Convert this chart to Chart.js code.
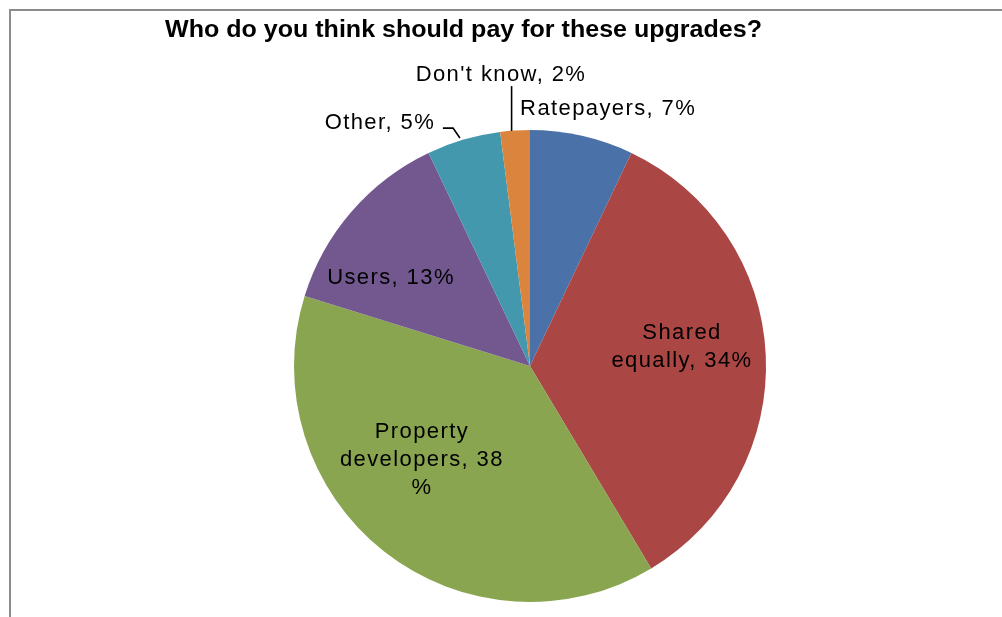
<!DOCTYPE html>
<html>
<head>
<meta charset="utf-8">
<script src="https://cdn.jsdelivr.net/npm/chart.js@4.4.1/dist/chart.umd.min.js"></script>
<style>
  html, body { margin: 0; padding: 0; background: #fff; }
  #wrap { width: 1002px; height: 617px; position: relative; }
</style>
</head>
<body>
<div id="wrap"><canvas id="c" width="1002" height="617"></canvas></div>
<script>
// Survey answers: who should pay for the upgrades
const categories = ['Ratepayers', 'Shared equally', 'Property developers', 'Users', 'Other', "Don't know"];
const shares = [7, 34, 38, 13, 5, 2];
// Label text lines for each slice
const labelLines = [
  ['Ratepayers, 7%'],
  ['Shared', 'equally, 34%'],
  ['Property', 'developers, 38', '%'],
  ['Users, 13%'],
  ['Other, 5%'],
  ["Don't know, 2%"]
];
const chartTitle = 'Who do you think should pay for these upgrades?';

const sliceColors = ['#4A72A8', '#AA4644', '#8AA550', '#72588F', '#4398AE', '#DB843D'];

// Label anchors, in units of the pie radius relative to its centre
// (dx, dy = middle of the baselines), plus optional leader lines.
const labelPlacement = [
  { dx: -0.042, dy: -1.064, align: 'left' },
  { dx: 0.644, dy: -0.053, align: 'center' },
  { dx: -0.458, dy: 0.422, align: 'center' },
  { dx: -0.589, dy: -0.347, align: 'center' },
  { dx: -0.636, dy: -1.004, align: 'center',
    leader: [[-0.369, -1.008], [-0.326, -1.008], [-0.297, -0.966]] },
  { dx: -0.123, dy: -1.208, align: 'center',
    leader: [[-0.078, -1.186], [-0.078, -0.996]] }
];

const LABEL_FONT = '22px "Liberation Sans", Arial, sans-serif';
const LINE_H = 28;

const framePlugin = {
  id: 'frame',
  beforeDraw(chart) {
    const ctx = chart.ctx;
    ctx.save();
    ctx.fillStyle = '#fff';
    ctx.fillRect(0, 0, chart.width, chart.height);
    ctx.strokeStyle = '#8c8c8c';
    ctx.lineWidth = 2;
    ctx.beginPath();
    ctx.moveTo(10, chart.height);
    ctx.lineTo(10, 10);
    ctx.lineTo(chart.width, 10);
    ctx.stroke();
    ctx.restore();
  }
};

const titlePlugin = {
  id: 'fittedTitle',
  afterDraw(chart) {
    const ctx = chart.ctx;
    ctx.save();
    ctx.font = 'bold 23px "Liberation Sans", Arial, sans-serif';
    ctx.fillStyle = '#000';
    ctx.textBaseline = 'alphabetic';
    const w = ctx.measureText(chartTitle).width;
    const target = 597;
    ctx.translate(165, 37);
    ctx.scale(target / w, 1);
    ctx.fillText(chartTitle, 0, 0);
    ctx.restore();
  }
};

const sliceLabelPlugin = {
  id: 'sliceLabels',
  afterDatasetsDraw(chart) {
    const ctx = chart.ctx;
    const meta = chart.getDatasetMeta(0);
    ctx.save();
    ctx.font = LABEL_FONT;
    ctx.fillStyle = '#000';
    ctx.strokeStyle = '#000';
    ctx.lineWidth = 1.6;
    ctx.textBaseline = 'alphabetic';
    if ('letterSpacing' in ctx) ctx.letterSpacing = '1.4px';
    meta.data.forEach((arc, i) => {
      const cx = arc.x, cy = arc.y, r = arc.outerRadius;
      const p = labelPlacement[i];
      const lines = labelLines[i];
      const ax = cx + p.dx * r;
      const ay = cy + p.dy * r;
      ctx.textAlign = p.align;
      const first = ay - (lines.length - 1) * LINE_H / 2;
      lines.forEach((t, k) => ctx.fillText(t, ax, first + k * LINE_H));
      if (p.leader) {
        ctx.beginPath();
        p.leader.forEach(([lx, ly], k) => {
          const x = cx + lx * r, y = cy + ly * r;
          if (k === 0) ctx.moveTo(x, y); else ctx.lineTo(x, y);
        });
        ctx.stroke();
      }
    });
    ctx.restore();
  }
};

new Chart(document.getElementById('c'), {
  type: 'pie',
  data: {
    labels: categories,
    datasets: [{
      data: shares,
      backgroundColor: sliceColors,
      borderWidth: 0
    }]
  },
  options: {
    responsive: false,
    animation: false,
    layout: { padding: { left: 294, right: 236, top: 130, bottom: 15 } },
    plugins: {
      legend: { display: false },
      tooltip: { enabled: false },
      title: { display: false }
    }
  },
  plugins: [framePlugin, titlePlugin, sliceLabelPlugin]
});
</script>
</body>
</html>
